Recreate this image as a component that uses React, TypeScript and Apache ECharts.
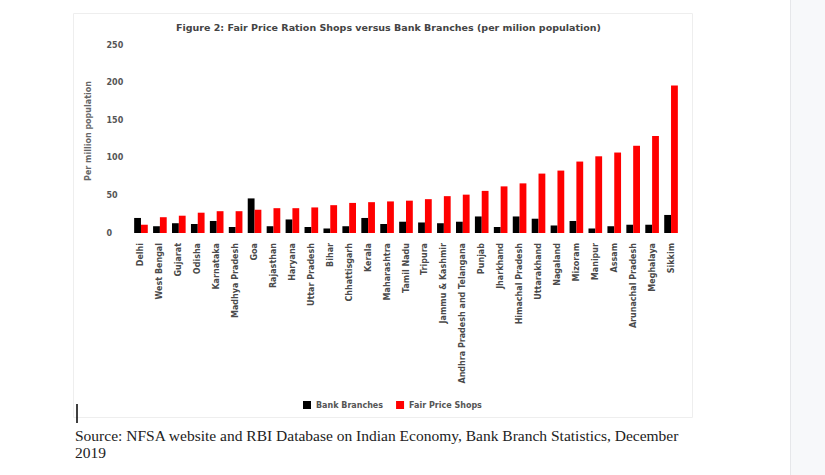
import React, { useEffect, useRef } from "react";
import * as echarts from "echarts";

const states = [
  "Delhi", "West Bengal", "Gujarat", "Odisha", "Karnataka", "Madhya Pradesh", "Goa",
  "Rajasthan", "Haryana", "Uttar Pradesh", "Bihar", "Chhattisgarh", "Kerala", "Maharashtra",
  "Tamil Nadu", "Tripura", "Jammu & Kashmir", "Andhra Pradesh and Telangana", "Punjab",
  "Jharkhand", "Himachal Pradesh", "Uttarakhand", "Nagaland", "Mizoram", "Manipur", "Assam",
  "Arunachal Pradesh", "Meghalaya", "Sikkim",
];

const bankBranches = [
  20, 9, 13, 12, 16, 8, 46, 9, 18, 8, 6, 9, 20, 12, 15, 14, 13, 15, 22, 8, 22, 19, 10, 16, 6, 9, 11, 11, 24,
];

const fairPriceShops = [
  11, 21, 23, 27, 29, 29, 31, 33, 33, 34, 37, 40, 41, 42, 43, 45, 49, 51, 56, 62, 66, 79, 83, 95, 102, 107, 116, 129, 196,
];

const yMin = 0;
const yMax = 250;
const yStep = 50;

const titleText = "Figure 2: Fair Price Ration Shops versus Bank Branches (per milion population)";
const yAxisName = "Per million population";
const seriesNames = ["Bank Branches", "Fair Price Shops"];
const sourceLine1 = "Source: NFSA website and RBI Database on Indian Economy, Bank Branch Statistics, December";
const sourceLine2 = "2019";

export default function App() {
  const ref = useRef<HTMLDivElement>(null);

  useEffect(() => {
    document.body.style.margin = "0";
    if (!ref.current) return;
    const chart = echarts.init(ref.current, undefined, { renderer: "svg" });
    const sans = "DejaVu Sans";
    chart.setOption({
      animation: false,
      backgroundColor: "#ffffff",
      title: {
        text: titleText,
        left: 171,
        top: 17,
        textStyle: { fontFamily: sans, fontSize: 9.5, fontWeight: "bold", color: "#444" },
      },
      legend: {
        data: seriesNames,
        left: 298,
        top: 396,
        icon: "rect",
        itemWidth: 8,
        itemHeight: 8,
        itemGap: 13,
        textStyle: { fontFamily: sans, fontSize: 8, fontWeight: "bold", color: "#555" },
      },
      grid: { left: 131.5, right: 144.5, top: 45, bottom: 242, containLabel: false },
      xAxis: {
        type: "category",
        data: states,
        axisLine: { show: false },
        axisTick: { show: false },
        axisLabel: {
          rotate: 90,
          interval: 0,
          margin: 10,
          fontFamily: sans,
          fontSize: 8,
          fontWeight: "bold",
          color: "#4a4a4a",
        },
      },
      yAxis: {
        type: "value",
        min: yMin,
        max: yMax,
        interval: yStep,
        splitLine: { show: false },
        axisLine: { show: false },
        axisTick: { show: false },
        axisLabel: {
          align: "left",
          margin: 25,
          fontFamily: sans,
          fontSize: 8,
          fontWeight: "bold",
          color: "#555",
        },
        name: yAxisName,
        nameLocation: "middle",
        nameGap: 39,
        nameTextStyle: { fontFamily: sans, fontSize: 8, fontWeight: "bold", color: "#666", padding: [0, 0, 0, 16] },
      },
      series: [
        {
          type: "bar",
          name: seriesNames[0],
          data: bankBranches,
          itemStyle: { color: "#000000" },
          barGap: "0%",
          barCategoryGap: "28%",
        },
        {
          type: "bar",
          name: seriesNames[1],
          data: fairPriceShops,
          itemStyle: { color: "#ff0000" },
          barGap: "0%",
          barCategoryGap: "28%",
        },
      ],
      graphic: [
        {
          type: "rect",
          shape: { x: 791, y: 0, width: 34, height: 475 },
          style: { fill: "#f7f8fa" },
          silent: true,
        },
        {
          type: "line",
          shape: { x1: 790.5, y1: 0, x2: 790.5, y2: 475 },
          style: { stroke: "#e6e7ea", lineWidth: 1 },
          silent: true,
        },
        {
          type: "rect",
          shape: { x: 73.5, y: 13.5, width: 619, height: 404 },
          style: { fill: "none", stroke: "#eeeeee", lineWidth: 1 },
          silent: true,
        },
        {
          type: "line",
          shape: { x1: 77, y1: 404, x2: 77, y2: 423 },
          style: { stroke: "#000", lineWidth: 1.5 },
          silent: true,
        },
        {
          type: "text",
          x: 75,
          y: 427,
          style: {
            text: sourceLine1,
            fontFamily: "Liberation Serif",
            fontSize: 15.5,
            fill: "#222",
            verticalAlign: "top",
          },
        },
        {
          type: "text",
          x: 75,
          y: 444,
          style: {
            text: sourceLine2,
            fontFamily: "Liberation Serif",
            fontSize: 15.5,
            fill: "#222",
            verticalAlign: "top",
          },
        },
      ],
    });
    return () => chart.dispose();
  }, []);

  return <div ref={ref} style={{ width: 825, height: 475 }} />;
}
